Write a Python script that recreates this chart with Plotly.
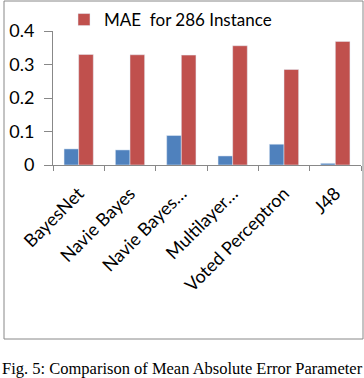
import plotly.graph_objects as go

categories = ["BayesNet", "Navie Bayes", "Navie Bayes…", "Multilayer…", "Voted Perceptron", "J48"]
series_blue_name = "MAE"
series_blue = [0.048, 0.045, 0.088, 0.027, 0.062, 0.005]
series_red_name = "MAE  for 286 Instance"
series_red = [0.330, 0.329, 0.328, 0.356, 0.285, 0.369]
y_ticks = [0, 0.1, 0.2, 0.3, 0.4]
y_ticktext = ["0", "0.1", "0.2", "0.3", "0.4"]
caption = "Fig. 5: Comparison of Mean Absolute Error Parameter"

W, H = 364, 378
L, R, T, B = 53, 3, 31, 213
pw, ph = W - L - R, H - T - B

def px_x(x):
    return (x - L) / pw

def px_y(y):
    return (H - B - y) / ph

fig = go.Figure()
fig.add_trace(go.Bar(x=categories, y=series_blue, name=series_blue_name,
                     marker_color="#4F81BD", showlegend=False))
fig.add_trace(go.Bar(x=categories, y=series_red, name=series_red_name,
                     marker_color="#C0504D"))

fig.update_layout(
    width=W, height=H,
    margin=dict(l=L, r=R, t=T, b=B, autoexpand=False),
    paper_bgcolor="white", plot_bgcolor="white",
    barmode="group", bargap=0.43, bargroupgap=0,
    font=dict(family="Lato, Open Sans, sans-serif", size=17, color="black"),
    showlegend=True,
    legend=dict(x=px_x(64), y=px_y(20), xanchor="left", yanchor="middle",
                bgcolor="rgba(0,0,0,0)", borderwidth=0,
                font=dict(size=17), itemwidth=30),
    xaxis=dict(showline=True, linecolor="#888888", linewidth=1,
               ticks="outside", tickson="boundaries", ticklen=5,
               tickcolor="#888888", tickangle=-45, showgrid=False,
               tickfont=dict(size=18), ticklabelstandoff=10, automargin=False),
    yaxis=dict(range=[0, 0.4], tickvals=y_ticks, ticktext=y_ticktext,
               showline=True, linecolor="#888888", linewidth=1,
               ticks="outside", ticklen=8, tickcolor="#888888",
               ticklabelstandoff=6, tickfont=dict(size=18),
               showgrid=False, zeroline=False, automargin=False),
    shapes=[dict(type="rect", xref="paper", yref="paper",
                 x0=px_x(4), x1=px_x(363), y0=px_y(339), y1=px_y(1),
                 line=dict(color="#888888", width=1), layer="below")],
    annotations=[dict(text=caption, xref="paper", yref="paper",
                      x=px_x(182), y=px_y(368), xanchor="center", yanchor="middle",
                      showarrow=False,
                      font=dict(family="Liberation Serif, Times New Roman, serif", size=16.5))],
)

fig.write_html("out.html", config={"displayModeBar": False},
               post_script="document.body.style.margin='0';document.body.style.overflow='hidden';")
